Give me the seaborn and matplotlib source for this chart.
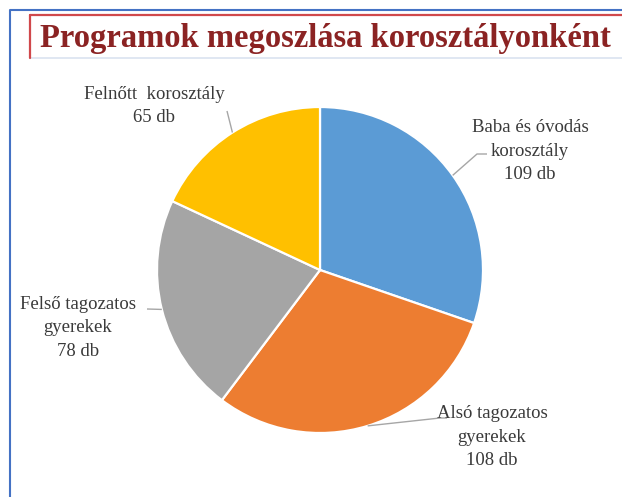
"""Pie chart: Programok megoszlása korosztályonként."""
import numpy as np
import matplotlib
matplotlib.use("Agg")
import matplotlib.pyplot as plt
from matplotlib.patches import Rectangle
import seaborn as sns

# data
categories = ["Baba és óvodás\nkorosztály", "Alsó tagozatos\ngyerekek",
              "Felső tagozatos\ngyerekek", "Felnőtt  korosztály"]
counts = [109, 108, 78, 65]
colors = ["#5B9BD5", "#ED7D31", "#A5A5A5", "#FFC000"]
title = "Programok megoszlása korosztályonként"

W, H = 622, 497
sns.set_style("white")
plt.rcParams["font.family"] = ["Liberation Serif", "DejaVu Serif"]

fig = plt.figure(figsize=(W / 100, H / 100), dpi=100)
ax = fig.add_axes([0, 0, 1, 1])


def P(x, y):
    # pixel coords (y from top) -> data coords
    return x, H - y


cx, cy = P(320, 270)
R = 163
wedges, _ = ax.pie(counts, colors=colors, startangle=90, counterclock=False,
                   center=(cx, cy), radius=R,
                   wedgeprops=dict(edgecolor="white", linewidth=1.6))

# label layout (text centre, elbow, line end) in pixels
label_pos = [(530, 151), (492, 437), (78, 328), (154, 106)]
elbows = [(477, 154), (440, 418), None, None]
line_end = [(487, 154), (447, 418), (147, 309), (227, 111)]

for w, lab, n, tp, el, le in zip(wedges, categories, counts, label_pos, elbows, line_end):
    mid = np.deg2rad((w.theta1 + w.theta2) / 2)
    sx, sy = cx + R * np.cos(mid), cy + R * np.sin(mid)
    pts = [(sx, sy)]
    if el is not None:
        pts.append(P(*el))
    pts.append(P(*le))
    xs, ys = zip(*pts)
    ax.plot(xs, ys, color="#A6A6A6", lw=1.0, solid_capstyle="butt")
    ax.text(*P(*tp), f"{lab}\n{n} db", ha="center", va="center",
            multialignment="center", fontsize=13.5, color="#3A3A3A",
            linespacing=1.5)

# borders
ax.plot([9.5, 9.5, W], [0, H - 10, H - 10], color="#4472C4", lw=1.5)
ax.add_patch(Rectangle(P(30, 58), W, 43, fill=False, ec="#DAE3F0", lw=1.2))
ax.plot([30, W], [H - 15, H - 15], color="#D0484B", lw=1.6)
ax.plot([30, 30], [H - 15, H - 58], color="#D0484B", lw=1.6)

ax.text(*P(325, 38), title, ha="center", va="center", fontsize=23.5,
        fontweight="bold", color="#8B2323")

ax.set_xlim(0, W)
ax.set_ylim(0, H)
ax.set_aspect("equal")
ax.axis("off")

fig.savefig("out.png", dpi=100, facecolor="white")
